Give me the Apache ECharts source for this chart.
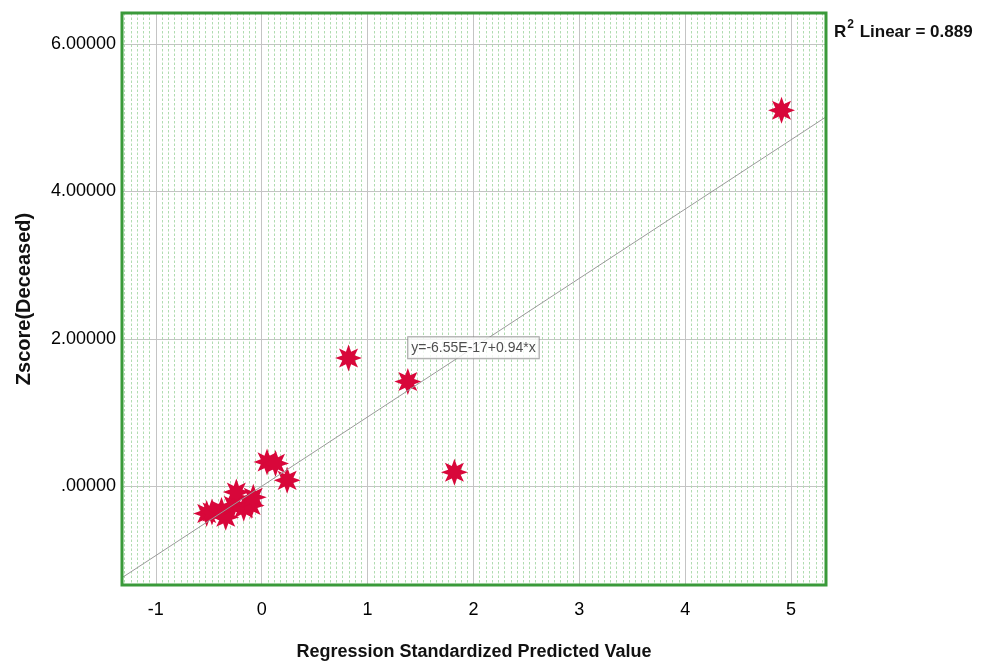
<!DOCTYPE html>
<html><head><meta charset="utf-8">
<script src="https://cdn.jsdelivr.net/npm/echarts@6/dist/echarts.min.js"></script>
<style>html,body{margin:0;padding:0;background:#fff}#c{width:988px;height:661px}</style>
</head><body><div id="c"></div>
<script>
// Data
const predicted = [-0.52, -0.47, -0.38, -0.34, -0.27, -0.24, -0.17, -0.10, -0.08, 0.05, 0.13, 0.24, 0.82, 1.38, 1.82, 4.91];
const zscore    = [-0.37, -0.35, -0.33, -0.42, -0.26, -0.08, -0.30, -0.26, -0.15, 0.33, 0.31, 0.08, 1.74, 1.42, 0.19, 5.10];
const intercept = -6.55e-17;
const slope = 0.94;
const equationText = 'y=-6.55E-17+0.94*x';
const r2Value = '0.889';
const xRange = [-1.32, 5.33];
const yRange = [-1.34, 6.42];
const eqLabelX = 2;

const FONT = '"Liberation Sans", Arial, sans-serif';
const G = {left: 122, top: 13, right: 162, bottom: 76};
const W = 988, H = 661;

function starPath(n, r1, r2) {
  let d = '';
  for (let i = 0; i < 2 * n; i++) {
    const a = Math.PI * i / n - Math.PI / 2;
    const r = i % 2 ? r2 : r1;
    d += (i ? 'L' : 'M') + (50 + r * Math.cos(a)).toFixed(2) + ' ' + (50 + r * Math.sin(a)).toFixed(2) + ' ';
  }
  return 'path://' + d + 'Z';
}

const pts = predicted.map((x, i) => [x, zscore[i]]);
const fitLine = xRange.map(x => [x, intercept + slope * x]);

const chart = echarts.init(document.getElementById('c'), null, {renderer: 'canvas'});
chart.setOption({
  animation: false,
  backgroundColor: '#fff',
  grid: {left: G.left, top: G.top, right: G.right, bottom: G.bottom, show: false, containLabel: false, outerBoundsMode: 'none'},
  xAxis: {
    type: 'value', min: xRange[0], max: xRange[1],
    name: 'Regression Standardized Predicted Value', nameLocation: 'middle', nameGap: 58,
    nameTextStyle: {fontFamily: FONT, fontSize: 18, fontWeight: 'bold', color: '#111'},
    axisLine: {show: false}, axisTick: {show: false},
    axisLabel: {showMinLabel: false, showMaxLabel: false, margin: 16, fontFamily: FONT, fontSize: 18, color: '#000'},
    splitLine: {show: true, lineStyle: {color: '#c4c4c4', width: 1}},
    minorTick: {show: false, splitNumber: 17},
    minorSplitLine: {show: true, lineStyle: {color: '#b0dcb0', width: 1, type: [2.5, 2]}}
  },
  yAxis: {
    type: 'value', min: yRange[0], max: yRange[1],
    name: 'Zscore(Deceased)', nameLocation: 'middle', nameGap: 88, nameRotate: 90,
    nameTextStyle: {fontFamily: FONT, fontSize: 20, fontWeight: 'bold', color: '#111'},
    axisLine: {show: false}, axisTick: {show: false},
    axisLabel: {showMinLabel: false, showMaxLabel: false, margin: 6, fontFamily: FONT, fontSize: 18, color: '#000',
      formatter: v => v === 0 ? '.00000' : v.toFixed(5)},
    splitLine: {show: true, lineStyle: {color: '#c4c4c4', width: 1}}
  },
  series: [
    {
      type: 'scatter', data: pts, symbol: starPath(8, 50, 25), symbolSize: 27,
      itemStyle: {color: '#d8073a', opacity: 1}, z: 2
    },
    {
      type: 'line', data: fitLine, showSymbol: false, silent: true,
      lineStyle: {color: '#9a9a9a', width: 1}, z: 3
    },
    {
      type: 'scatter', data: [[eqLabelX, intercept + slope * eqLabelX]], symbolSize: 0, silent: true, z: 4,
      label: {show: true, position: 'inside', formatter: equationText, fontFamily: FONT, fontSize: 14, color: '#222',
        backgroundColor: '#fff', borderColor: '#8a8a8a', borderWidth: 1, padding: [4, 3, 3, 3]}
    }
  ],
  graphic: [
    {
      type: 'rect', z: 100, silent: true,
      shape: {x: G.left, y: G.top, width: W - G.left - G.right, height: H - G.top - G.bottom},
      style: {fill: 'none', stroke: '#3a9a3a', lineWidth: 3}
    },
    {
      type: 'text', left: 834, top: 19,
      style: {
        text: '{b|R}{s|2}{b| Linear = ' + r2Value + '}',
        rich: {
          b: {fontFamily: FONT, fontSize: 17, fontWeight: 'bold', fill: '#111', lineHeight: 22, verticalAlign: 'bottom'},
          s: {fontFamily: FONT, fontSize: 12, fontWeight: 'bold', fill: '#111', lineHeight: 22, verticalAlign: 'top', padding: [0, 1, 0, 1]}
        }
      }
    }
  ]
});
</script></body></html>
